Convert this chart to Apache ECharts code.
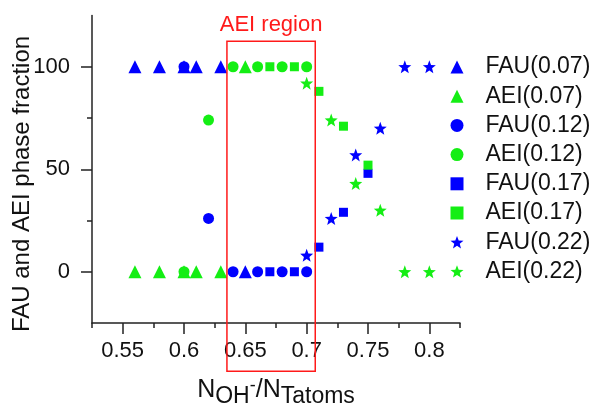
<!DOCTYPE html>
<html>
<head>
<meta charset="utf-8">
<script src="https://cdn.jsdelivr.net/npm/echarts@6/dist/echarts.min.js"></script>
<style>
  html, body { margin: 0; padding: 0; background: #ffffff; }
  #chart { width: 597px; height: 407px; }
</style>
</head>
<body>
<div id="chart"></div>
<script>
// N_OH-/N_Tatoms ratio and phase fraction (%) for each water content
const x007 = [0.56, 0.58, 0.60, 0.61, 0.63, 0.65];
const fau007 = [100, 100, 100, 100, 100, 0];
const aei007 = [0, 0, 0, 0, 0, 100];

const x012 = [0.60, 0.62, 0.64, 0.66, 0.68, 0.70];
const fau012 = [100, 26, 0, 0, 0, 0];
const aei012 = [0, 74, 100, 100, 100, 100];

const x017 = [0.67, 0.69, 0.71, 0.73, 0.75];
const fau017 = [0, 0, 12, 29, 48];
const aei017 = [100, 100, 88, 71, 52];

const x022 = [0.70, 0.72, 0.74, 0.76, 0.78, 0.80];
const fau022 = [8, 26, 57, 70, 100, 100];
const aei022 = [92, 74, 43, 30, 0, 0];

// axis ticks
const xMajorTicks = [0.55, 0.60, 0.65, 0.70, 0.75, 0.80];
const xMinorTicks = [0.525, 0.575, 0.625, 0.675, 0.725, 0.775, 0.825];
const yMajorTicks = [0, 50, 100];
const yMinorTicks = [25, 75];

// highlighted composition window (data units)
const regionX = [0.635, 0.707];
const regionY = [-48.5, 112.5];

const FONT = '"Liberation Sans", Arial, sans-serif';
const BLUE = '#0000ff';
const GREEN = '#14ee14';
const RED = '#ff1a1a';
const AXIS = '#222222';

function starSymbol() {
  let d = '';
  for (let i = 0; i < 10; i++) {
    const r = i % 2 === 0 ? 1 : 0.42;
    const a = -Math.PI / 2 + i * Math.PI / 5;
    d += (i ? 'L' : 'M') + (r * Math.cos(a)).toFixed(3) + ' ' + (r * Math.sin(a)).toFixed(3) + ' ';
  }
  return 'path://' + d + 'Z';
}
const STAR = starSymbol();

function pairs(xs, ys) { return xs.map((x, i) => [x, ys[i]]); }

function scatter(name, xs, ys, symbol, size, color) {
  return {
    name: name,
    type: 'scatter',
    xAxisIndex: 0,
    yAxisIndex: 0,
    symbol: symbol,
    symbolSize: size,
    itemStyle: { color: color, opacity: 1 },
    emphasis: { disabled: true },
    data: pairs(xs, ys)
  };
}

const chart = echarts.init(document.getElementById('chart'), null, { renderer: 'canvas' });

const baseAxis = {
  splitLine: { show: false },
  axisLine: { onZero: false }
};

chart.setOption({
  animation: false,
  backgroundColor: '#ffffff',
  textStyle: { fontFamily: FONT },
  grid: { left: 92, right: 137, top: 15.5, bottom: 84, containLabel: false },
  xAxis: [
    Object.assign({}, baseAxis, {
      type: 'value', min: 0.525, max: 0.825, position: 'bottom',
      axisLine: { show: true, onZero: false, lineStyle: { color: AXIS, width: 1.5 } },
      axisTick: { show: true, customValues: xMajorTicks, length: 11, lineStyle: { color: AXIS, width: 1.5 } },
      axisLabel: { show: true, customValues: xMajorTicks, margin: 17, fontSize: 22, color: '#111', fontFamily: FONT,
        formatter: v => String(+v.toFixed(2)) }
    }),
    Object.assign({}, baseAxis, {
      type: 'value', min: 0.525, max: 0.825, position: 'bottom',
      axisLine: { show: false, onZero: false },
      axisTick: { show: true, customValues: xMinorTicks, length: 5, lineStyle: { color: AXIS, width: 1.5 } },
      axisLabel: { show: false }
    })
  ],
  yAxis: [
    Object.assign({}, baseAxis, {
      type: 'value', min: -25, max: 125, position: 'left',
      axisLine: { show: true, onZero: false, lineStyle: { color: AXIS, width: 1.5 } },
      axisTick: { show: true, customValues: yMajorTicks, length: 11, lineStyle: { color: AXIS, width: 1.5 } },
      axisLabel: { show: true, customValues: yMajorTicks, margin: 22, fontSize: 22, color: '#111', fontFamily: FONT }
    }),
    Object.assign({}, baseAxis, {
      type: 'value', min: -25, max: 125, position: 'left',
      axisLine: { show: false, onZero: false },
      axisTick: { show: true, customValues: yMinorTicks, length: 5, lineStyle: { color: AXIS, width: 1.5 } },
      axisLabel: { show: false }
    })
  ],
  legend: {
    orient: 'vertical',
    left: 450.5,
    top: 55.5,
    padding: 0,
    itemWidth: 13,
    itemHeight: 13,
    itemGap: 6.2,
    textStyle: { fontSize: 23, lineHeight: 23, color: '#111', fontFamily: FONT, padding: [0, 0, 0, 17] },
    data: ['FAU(0.07)', 'AEI(0.07)', 'FAU(0.12)', 'AEI(0.12)', 'FAU(0.17)', 'AEI(0.17)', 'FAU(0.22)', 'AEI(0.22)']
  },
  series: [
    scatter('FAU(0.07)', x007, fau007, 'triangle', 13, BLUE),
    scatter('AEI(0.07)', x007, aei007, 'triangle', 13, GREEN),
    scatter('FAU(0.12)', x012, fau012, 'circle', 11, BLUE),
    scatter('AEI(0.12)', x012, aei012, 'circle', 11, GREEN),
    scatter('FAU(0.17)', x017, fau017, 'rect', 9, BLUE),
    scatter('AEI(0.17)', x017, aei017, 'rect', 9, GREEN),
    scatter('FAU(0.22)', x022, fau022, STAR, 13, BLUE),
    scatter('AEI(0.22)', x022, aei022, STAR, 13, GREEN)
  ]
});

// region frame, its caption and the axis titles
const p0 = chart.convertToPixel({ seriesIndex: 0 }, [regionX[0], regionY[1]]);
const p1 = chart.convertToPixel({ seriesIndex: 0 }, [regionX[1], regionY[0]]);

chart.setOption({
  graphic: [
    {
      type: 'rect',
      shape: { x: p0[0], y: p0[1], width: p1[0] - p0[0], height: p1[1] - p0[1] },
      style: { fill: 'none', stroke: RED, lineWidth: 1.5 },
      z: 10
    },
    {
      type: 'text',
      x: (p0[0] + p1[0]) / 2,
      y: 24.5,
      style: { text: 'AEI region', fill: RED, font: '22px ' + FONT, align: 'center', verticalAlign: 'middle' },
      z: 10
    },
    {
      type: 'text',
      x: 22,
      y: 184,
      rotation: Math.PI / 2,
      style: { text: 'FAU and AEI phase fraction', fill: '#111', font: '24px ' + FONT, align: 'center', verticalAlign: 'middle' },
      z: 10
    },
    {
      type: 'text',
      x: 276,
      y: 390,
      style: {
        text: '{n|N}{s|OH}{p|-}{n|/N}{s|Tatoms}',
        align: 'center',
        verticalAlign: 'middle',
        fill: '#111',
        rich: {
          n: { fontSize: 25, lineHeight: 25, fontFamily: FONT, fill: '#111', verticalAlign: 'middle' },
          s: { fontSize: 23, lineHeight: 23, fontFamily: FONT, fill: '#111', padding: [14, 0, 0, 0], verticalAlign: 'middle' },
          p: { fontSize: 18, lineHeight: 18, fontFamily: FONT, fill: '#111', padding: [0, 0, 8, 0], verticalAlign: 'middle' }
        }
      },
      z: 10
    }
  ]
});
</script>
</body>
</html>
